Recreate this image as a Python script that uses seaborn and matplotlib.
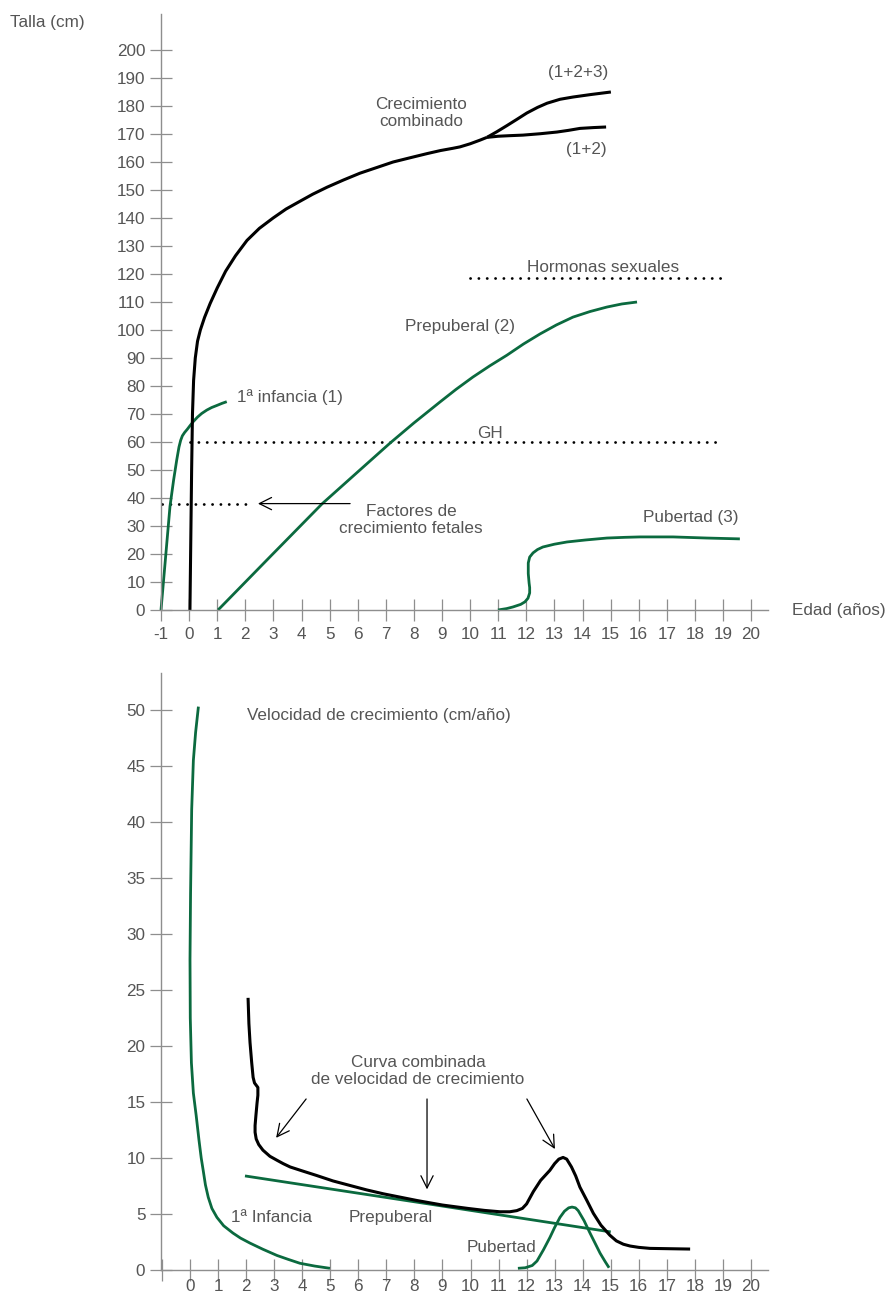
import matplotlib
matplotlib.use("Agg")
import matplotlib.pyplot as plt
import seaborn as sns

sns.set_theme(style="white")
plt.rcParams['font.family'] = ['Liberation Sans', 'DejaVu Sans']

GREEN = '#0b6a3f'
TXT = '#555555'
AXC = '#8e8e8e'
FS = 12.3

# ---------------- top panel data: talla (cm) vs edad (años) ----------------
top_xticks = list(range(-1, 21))
top_yticks = list(range(0, 201, 10))

comb_x = [0.03, 0.06, 0.09, 0.12, 0.16, 0.22, 0.30, 0.40, 0.55, 0.75, 1.0, 1.3, 1.65,
          2.06, 2.5, 2.99, 3.45, 3.95, 4.4, 4.91, 5.5, 6.08, 6.7, 7.26, 7.9, 8.47,
          8.95, 9.39, 9.64, 10.0, 10.35, 10.6]
comb_y = [0, 25, 50, 70, 82, 90, 96, 100, 104.5, 109.5, 115, 121, 126.5,
          132, 136.3, 140, 143.2, 146, 148.5, 151, 153.6, 156, 158.1, 160, 161.6, 163,
          164.1, 164.9, 165.4, 166.5, 167.8, 168.8]
comb123_x = [10.6, 10.95, 11.31, 11.66, 12.02, 12.4, 12.74, 13.2, 13.66, 14.3, 15.01]
comb123_y = [168.8, 170.8, 173, 175.2, 177.5, 179.5, 181, 182.4, 183.2, 184.1, 185]
comb12_x = [10.6, 11.0, 11.4, 11.88, 12.5, 13.09, 13.5, 13.91, 14.4, 14.84]
comb12_y = [168.8, 169.2, 169.4, 169.6, 170.1, 170.7, 171.3, 172, 172.3, 172.5]

inf_x = [-1, -0.84, -0.68, -0.55, -0.44, -0.36, -0.3, -0.24, -0.16, -0.06, 0.03,
         0.15, 0.3, 0.45, 0.63, 0.8, 1.0, 1.17, 1.34]
inf_y = [0, 18.5, 37, 46.5, 53.6, 58.2, 60.6, 62.2, 63.4, 64.6, 65.8,
         67.3, 68.9, 70.2, 71.4, 72.3, 73.1, 73.8, 74.4]

pre_x = [1.03, 2.9, 4.73, 6.0, 7.15, 8.0, 8.93, 9.5, 10.1, 10.7, 11.31, 11.9, 12.49,
         13.07, 13.66, 14.27, 14.87, 15.4, 15.94]
pre_y = [0, 19.2, 37.9, 49.3, 59.6, 66.8, 74.3, 78.8, 83.2, 87.2, 91, 95, 98.6,
         101.8, 104.6, 106.6, 108.2, 109.3, 110]

pub_x = [10.99, 11.3, 11.53, 11.8, 11.95, 12.06, 12.12, 12.12, 12.1, 12.07, 12.07,
         12.12, 12.24, 12.4, 12.59, 13.0, 13.45, 14.1, 14.87, 15.5, 16.05, 17.22,
         18.43, 19.6]
pub_y = [0, 0.5, 1.1, 2.0, 2.9, 4.2, 6.1, 8.0, 9.6, 13, 16.8,
         18.9, 20.4, 21.6, 22.5, 23.5, 24.3, 25.0, 25.7, 25.95, 26.1, 26.1,
         25.7, 25.4]

hormonas_x = [10, 19]
hormonas_y = [118.5, 118.5]
gh_x = [0.03, 19]
gh_y = [60, 60]
fetal_x = [-0.96, 2.06]
fetal_y = [38, 38]

# ---------------- bottom panel data: velocidad (cm/año) ----------------
bot_xticks = list(range(-1, 21))
bot_xlabels = [''] + [str(v) for v in range(0, 21)]
bot_yticks = list(range(0, 51, 5))

vinf_x = [0.30, 0.20, 0.12, 0.06, 0.02, 0.0, 0.01, 0.05, 0.12, 0.22, 0.32, 0.4, 0.47,
          0.55, 0.65, 0.78, 0.96, 1.2, 1.53, 1.8, 2.14, 2.6, 3.1, 3.5, 3.92, 4.45, 4.99]
vinf_y = [50.3, 48, 45.5, 41.1, 33.6, 27.7, 22.5, 18.5, 15.8, 13.8, 11.6, 10.0, 8.9,
          7.6, 6.5, 5.5, 4.7, 3.95, 3.3, 2.85, 2.4, 1.85, 1.3, 0.95, 0.6, 0.35, 0.15]

vcomb_x = [2.07, 2.1, 2.14, 2.2, 2.25, 2.3, 2.36, 2.42, 2.42, 2.39, 2.35, 2.32, 2.32,
           2.36, 2.45, 2.6, 2.85, 3.1, 3.32, 3.57, 4.0, 4.5, 5.1, 5.7, 6.3, 6.9, 7.5,
           8.1, 9.0, 9.9, 10.5, 11.05, 11.4, 11.65, 11.85, 12.0, 12.24, 12.5, 12.83,
           13.0, 13.15, 13.3, 13.43, 13.6, 13.75, 13.9, 14.15, 14.38, 14.65, 14.97,
           15.2, 15.45, 15.69, 16.0, 16.4, 17.1, 17.83]
vcomb_y = [24.3, 22, 20.3, 18.5, 17.2, 16.7, 16.5, 16.3, 15.6, 14.9, 13.8, 12.9, 12.3,
           11.7, 11.2, 10.7, 10.15, 9.8, 9.5, 9.2, 8.85, 8.45, 7.95, 7.55, 7.15, 6.8, 6.5,
           6.2, 5.8, 5.5, 5.32, 5.2, 5.2, 5.3, 5.5, 5.9, 7.0, 8.0, 8.9,
           9.5, 9.9, 10.05, 9.9, 9.2, 8.4, 7.4, 6.2, 5.06, 4.0, 3.1,
           2.6, 2.3, 2.14, 2.02, 1.93, 1.9, 1.87]

vpre_x = [1.96, 8.5, 15.0]
vpre_y = [8.4, 5.9, 3.4]

vpub_x = [11.69, 11.95, 12.2, 12.37, 12.6, 12.83, 13.0, 13.19, 13.35, 13.5, 13.62,
          13.74, 13.84, 14.05, 14.26, 14.45, 14.62, 14.8, 14.94]
vpub_y = [0.15, 0.2, 0.4, 0.8, 1.8, 2.9, 3.8, 4.7, 5.25, 5.55, 5.62,
          5.55, 5.3, 4.4, 3.3, 2.35, 1.5, 0.75, 0.2]

# ---------------- figure ----------------
W, H = 886, 1298
fig = plt.figure(figsize=(W / 100, H / 100), dpi=100)

def px_axes(left, right, top, bottom):
    return fig.add_axes([left / W, 1 - bottom / H, (right - left) / W, (bottom - top) / H])

def style(ax, xpad):
    for s in ['top', 'right']:
        ax.spines[s].set_visible(False)
    for s in ['left', 'bottom']:
        ax.spines[s].set_color(AXC)
        ax.spines[s].set_linewidth(1.0)
    ax.tick_params(axis='both', direction='inout', length=15.8, width=0.9,
                   color=AXC, labelcolor=TXT, labelsize=FS,
                   bottom=True, left=True, top=False, right=False)
    ax.tick_params(axis='y', pad=3.4)
    ax.tick_params(axis='x', pad=xpad)
    ax.set_xlabel('')
    ax.set_ylabel('')
    ax.grid(False)

def curve(ax, x, y, color, lw):
    sns.lineplot(x=x, y=y, sort=False, estimator=None, color=color, lw=lw, ax=ax,
                 solid_joinstyle='round', solid_capstyle='butt', clip_on=False)

def dotted(ax, x, y):
    ax.plot(x, y, color='black', lw=2.0, linestyle=(0, (0.05, 2.95)),
            dash_capstyle='round', clip_on=False)

def t(ax, x, y, s, ha='center'):
    ax.text(x, y, s, ha=ha, va='center', color=TXT, fontsize=FS, linespacing=1.15)

# top axes
ax1 = px_axes(161, 768, 14, 610)
ax1.set_xlim(-1, -1 + (768 - 161) / 28.1)
ax1.set_ylim(0, (610 - 14) / 2.8)

dotted(ax1, hormonas_x, hormonas_y)
dotted(ax1, gh_x, gh_y)
dotted(ax1, fetal_x, fetal_y)
curve(ax1, inf_x, inf_y, GREEN, 2.0)
curve(ax1, pre_x, pre_y, GREEN, 2.0)
curve(ax1, pub_x, pub_y, GREEN, 2.0)
curve(ax1, comb_x, comb_y, 'black', 2.2)
curve(ax1, comb123_x, comb123_y, 'black', 2.2)
curve(ax1, comb12_x, comb12_y, 'black', 2.2)

ax1.set_xticks(top_xticks)
ax1.set_xticklabels([str(v) for v in top_xticks])
ax1.set_yticks(top_yticks)
ax1.set_yticklabels([str(v) for v in top_yticks])
style(ax1, 4.5)

ax1.annotate('', xy=(2.45, 38), xytext=(5.73, 38),
             arrowprops=dict(arrowstyle='->', lw=0.9, color='black', mutation_scale=22,
                             shrinkA=0, shrinkB=0))

t(ax1, 8.25, 177.5, 'Crecimiento\ncombinado')
t(ax1, 13.84, 191.8, '(1+2+3)')
t(ax1, 14.12, 164.6, '(1+2)')
t(ax1, 14.73, 122.5, 'Hormonas sexuales')
t(ax1, 9.64, 101.4, 'Prepuberal (2)')
t(ax1, 10.71, 62.9, 'GH')
t(ax1, 3.59, 76.1, '1ª infancia (1)')
t(ax1, 7.9, 32.1, 'Factores de\ncrecimiento fetales')
t(ax1, 17.86, 33.2, 'Pubertad (3)')

fig.text(10 / W, 1 - 22 / H, 'Talla (cm)', ha='left', va='center', color=TXT, fontsize=FS)
fig.text(792 / W, 1 - 610 / H, 'Edad (años)', ha='left', va='center', color=TXT, fontsize=FS)

# bottom axes
ax2 = px_axes(161, 768, 673, 1270)
ax2.set_xlim((161 - 190) / 28.05, (768 - 190) / 28.05)
ax2.set_ylim(0, (1270 - 673) / 11.2)

curve(ax2, vinf_x, vinf_y, GREEN, 2.0)
curve(ax2, vpre_x, vpre_y, GREEN, 2.0)
curve(ax2, vpub_x, vpub_y, GREEN, 2.0)
curve(ax2, vcomb_x, vcomb_y, 'black', 2.2)

ax2.set_xticks(bot_xticks)
ax2.set_xticklabels(bot_xlabels)
ax2.set_yticks(bot_yticks)
ax2.set_yticklabels([str(v) for v in bot_yticks])
style(ax2, -1.2)

t(ax2, 2.03, 49.55, 'Velocidad de crecimiento (cm/año)', ha='left')
t(ax2, 8.13, 17.77, 'Curva combinada\nde velocidad de crecimiento')
t(ax2, 2.92, 4.73, '1ª Infancia')
t(ax2, 7.17, 4.73, 'Prepuberal')
t(ax2, 11.12, 2.05, 'Pubertad')

arrows = [((4.14, 15.27), (3.07, 11.8)),
          ((8.45, 15.27), (8.45, 7.2)),
          ((12.01, 15.27), (13.01, 10.8))]
for start, end in arrows:
    ax2.annotate('', xy=end, xytext=start,
                 arrowprops=dict(arrowstyle='->', lw=0.9, color='black', mutation_scale=22,
                                 shrinkA=0, shrinkB=0))

fig.savefig('out.png', dpi=100)
